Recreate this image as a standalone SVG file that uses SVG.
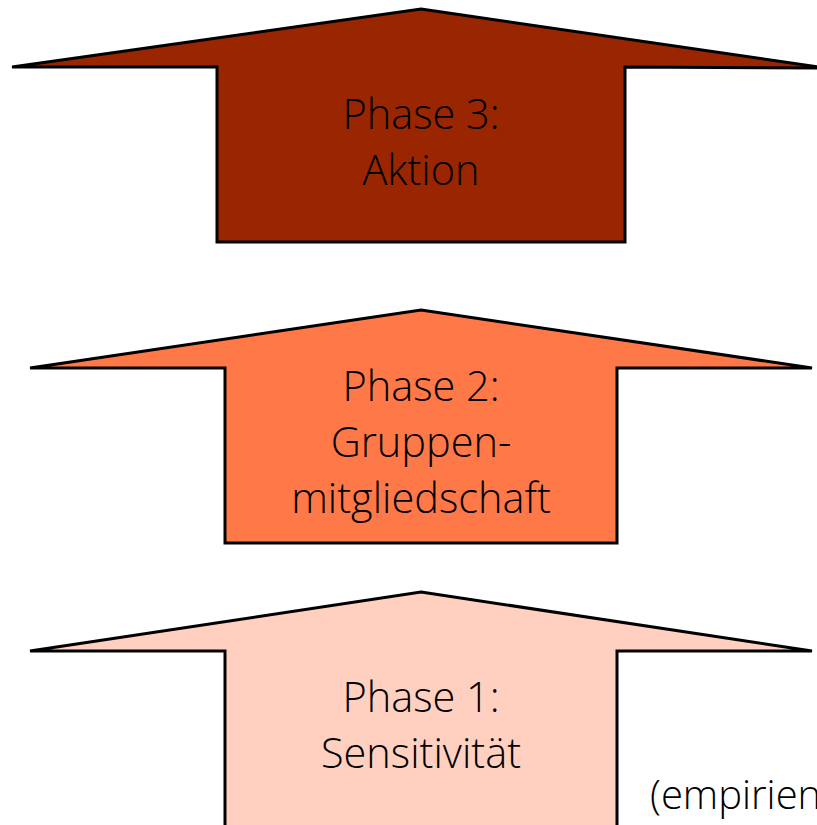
<svg xmlns="http://www.w3.org/2000/svg" width="817" height="825" viewBox="0 0 817 825">
<style>
.a{stroke:#000;stroke-width:3;stroke-linejoin:miter}
.t{font-family:"Open Sans","Noto Sans",sans-serif;font-size:41.5px;font-weight:300;fill:#000;text-anchor:middle}
</style>
<rect width="817" height="825" fill="#fff"/>
<g id="phase3">
<polygon class="a" fill="#992600" points="421,9 825,68 625,67 625,242 217,242 217,67 12,67"/>
<text class="t" x="421" y="129">Phase 3:</text>
<text class="t" x="421" y="185">Aktion</text>
</g>
<g id="phase2">
<polygon class="a" fill="#FF7848" points="421,310 812,368 617,368 617,543 225,543 225,368 30,368"/>
<text class="t" x="421" y="401">Phase 2:</text>
<text class="t" x="421" y="457">Gruppen-</text>
<text class="t" x="421" y="513">mitgliedschaft</text>
</g>
<g id="phase1">
<polygon class="a" fill="#FFD0C0" points="421,592 812,651 617,651 617,840 225,840 225,651 30,651"/>
<text class="t" x="421" y="712">Phase 1:</text>
<text class="t" x="421" y="768">Sensitivität</text>
</g>
<g id="note">
<text class="t" x="650" y="809" style="text-anchor:start;font-size:40px">(empirienah)</text>
</g>
<g id="connectors"/>
</svg>
